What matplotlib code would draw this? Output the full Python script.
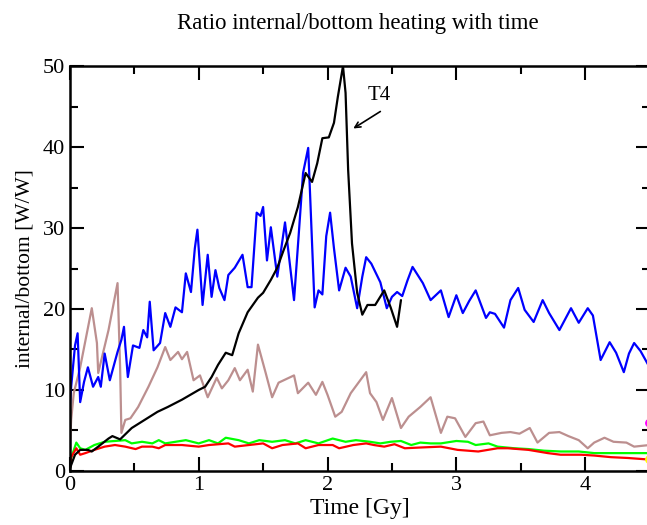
import matplotlib
matplotlib.use("Agg")
import matplotlib.pyplot as plt
from matplotlib.ticker import MultipleLocator

plt.rcParams['font.family'] = ['Liberation Serif', 'DejaVu Serif']

# blue
blue_t = [0.0, 0.01, 0.04, 0.06, 0.08, 0.11, 0.14, 0.18, 0.22, 0.24, 0.27, 0.31, 0.37, 0.40, 0.42, 0.43,
          0.45, 0.49, 0.54, 0.57, 0.60, 0.62, 0.65, 0.70, 0.74, 0.78, 0.82, 0.87, 0.90, 0.94,
          0.97, 0.99, 1.03, 1.07, 1.10, 1.13, 1.16, 1.20, 1.23, 1.28, 1.34, 1.38, 1.41, 1.45, 1.48,
          1.50, 1.53, 1.56, 1.61, 1.67, 1.74, 1.78, 1.81, 1.85, 1.90, 1.93, 1.96, 1.99, 2.02, 2.05, 2.09, 2.14,
          2.18, 2.23, 2.27, 2.30, 2.34, 2.41, 2.46, 2.50, 2.54, 2.58, 2.62, 2.66, 2.74, 2.80, 2.88, 2.94, 3.00,
          3.05, 3.10, 3.15, 3.23, 3.26, 3.30, 3.37, 3.42, 3.48, 3.53, 3.60, 3.67, 3.72, 3.80, 3.89,
          3.95, 4.02, 4.06, 4.12, 4.19, 4.24, 4.30, 4.34, 4.38, 4.43, 4.50]
blue_v = [8.0, 10.4, 15.5, 17.0, 8.5, 11.0, 12.8, 10.4, 11.6, 10.4, 14.5, 11.2, 14.7, 16.2, 17.8, 15.5,
          11.6, 15.5, 15.2, 17.4, 16.5, 20.9, 14.9, 15.8, 19.5, 17.8, 20.2, 19.6, 24.4, 22.1,
          27.5, 29.8, 20.5, 26.7, 21.5, 24.8, 22.6, 21.1, 24.2, 25.1, 26.7, 22.7, 22.7, 31.9, 31.5,
          32.6, 26.0, 30.1, 24.0, 30.7, 21.1, 30.0, 36.8, 39.9, 20.2, 22.3, 21.8, 29.0, 31.9, 27.5, 22.3, 25.1,
          24.0, 20.1, 24.0, 26.4, 25.6, 23.3, 20.1, 21.5, 22.1, 21.6, 23.5, 25.2, 23.2, 21.1, 22.3, 19.0, 21.7,
          19.5, 21.0, 22.3, 18.9, 19.6, 19.4, 17.7, 21.1, 22.6, 19.9, 18.4, 21.1, 19.5, 17.4, 20.1,
          18.3, 20.1, 19.2, 13.7, 15.9, 14.6, 12.2, 14.5, 15.8, 14.8, 12.8]

# black (T4)
black_t = [0.0, 0.04, 0.08, 0.14, 0.17, 0.22, 0.30, 0.33, 0.39, 0.48, 0.58, 0.68, 0.76, 0.87,
           1.00, 1.05, 1.10, 1.15, 1.21, 1.26, 1.31, 1.38, 1.46, 1.50, 1.56, 1.61, 1.66, 1.71,
           1.77, 1.83, 1.88, 1.92, 1.96, 2.01, 2.05, 2.08, 2.12, 2.14, 2.16, 2.19, 2.23, 2.27,
           2.31, 2.37, 2.44, 2.49, 2.54, 2.57]
black_v = [0.3, 2.0, 2.6, 2.6, 2.4, 3.0, 4.0, 4.3, 3.9, 5.3, 6.3, 7.3, 7.9, 8.8,
           10.0, 10.4, 11.6, 13.1, 14.6, 14.3, 17.0, 19.6, 21.4, 22.0, 23.6, 25.1, 27.3, 29.4,
           32.6, 36.8, 35.7, 38.0, 41.1, 41.2, 43.0, 46.2, 50.0, 46.7, 37.2, 28.1, 22.0, 19.3,
           20.5, 20.5, 22.3, 20.2, 17.8, 21.1]

# brown
brown_t = [0.0, 0.01, 0.03, 0.08, 0.17, 0.21, 0.22, 0.30, 0.37, 0.39, 0.40, 0.43, 0.47, 0.53,
           0.61, 0.68, 0.74, 0.78, 0.84, 0.87, 0.91, 0.96, 1.01, 1.07, 1.14, 1.18, 1.23, 1.28,
           1.32, 1.38, 1.42, 1.46, 1.52, 1.57, 1.62, 1.74, 1.77, 1.85, 1.91, 1.96, 2.00, 2.06,
           2.11, 2.18, 2.24, 2.30, 2.33, 2.38, 2.43, 2.50, 2.57, 2.63, 2.72, 2.80, 2.88, 2.93,
           2.99, 3.07, 3.15, 3.21, 3.26, 3.35, 3.42, 3.49, 3.57, 3.63, 3.72, 3.80, 3.87, 3.95,
           4.02, 4.07, 4.15, 4.22, 4.32, 4.38, 4.50]
brown_v = [3.0, 6.3, 9.6, 12.8, 20.1, 15.8, 12.1, 17.4, 23.2, 12.8, 4.7, 6.3, 6.5, 7.9,
           10.4, 12.8, 15.3, 13.7, 14.7, 13.8, 14.7, 11.2, 11.8, 9.1, 11.5, 10.2, 11.2, 12.7,
           11.2, 12.5, 9.8, 15.6, 12.1, 9.1, 10.9, 11.8, 9.6, 10.9, 9.4, 11.0, 9.4, 6.7,
           7.3, 9.6, 10.9, 12.2, 9.6, 8.5, 6.3, 9.0, 5.3, 6.7, 7.9, 9.1, 4.7, 6.7,
           6.5, 4.2, 5.9, 6.1, 4.4, 4.7, 4.8, 4.6, 5.3, 3.5, 4.7, 4.8, 4.3, 3.8,
           2.8, 3.5, 4.1, 3.6, 3.5, 3.0, 3.2]

# green
green_t = [0.0, 0.01, 0.05, 0.08, 0.12, 0.19, 0.27, 0.43, 0.48, 0.56, 0.64, 0.69, 0.74, 0.82,
           0.90, 1.00, 1.08, 1.15, 1.21, 1.31, 1.39, 1.47, 1.57, 1.67, 1.75, 1.83, 1.93, 2.04,
           2.14, 2.22, 2.33, 2.41, 2.49, 2.57, 2.65, 2.72, 2.80, 2.88, 2.96, 3.00, 3.09, 3.15,
           3.25, 3.32, 3.45, 3.56, 3.68, 3.81, 3.95, 4.07, 4.50]
green_v = [0.3, 1.6, 3.5, 2.8, 2.6, 3.2, 3.6, 3.8, 3.4, 3.6, 3.4, 3.8, 3.4, 3.6,
           3.8, 3.4, 3.8, 3.4, 4.1, 3.8, 3.4, 3.8, 3.6, 3.8, 3.4, 3.8, 3.4, 4.0,
           3.6, 3.8, 3.6, 3.4, 3.6, 3.7, 3.2, 3.5, 3.4, 3.4, 3.6, 3.7, 3.6, 3.2,
           3.4, 3.0, 2.8, 2.7, 2.5, 2.4, 2.4, 2.2, 2.2]

# red
red_t = [0.0, 0.01, 0.05, 0.08, 0.12, 0.19, 0.27, 0.35, 0.43, 0.51, 0.56, 0.64, 0.69, 0.74,
         0.87, 1.00, 1.08, 1.23, 1.28, 1.39, 1.50, 1.57, 1.65, 1.77, 1.83, 1.93, 2.04, 2.09,
         2.20, 2.30, 2.36, 2.44, 2.52, 2.60, 2.73, 2.88, 3.01, 3.17, 3.32, 3.40, 3.56, 3.71,
         3.81, 3.97, 4.07, 4.20, 4.33, 4.50]
red_v = [0.3, 1.7, 2.8, 2.0, 2.2, 2.6, 3.0, 3.2, 3.0, 2.7, 3.0, 3.0, 2.8, 3.2,
         3.2, 3.0, 3.2, 3.4, 3.0, 3.2, 3.4, 2.8, 3.2, 3.4, 2.8, 3.2, 3.2, 2.8,
         3.2, 3.4, 3.2, 3.0, 3.3, 2.8, 2.9, 3.0, 2.6, 2.4, 2.8, 2.8, 2.6, 2.2,
         2.0, 2.0, 1.9, 1.7, 1.6, 1.4]

# end markers at right edge
dot_t = [4.5, 4.5]
dot_v = [5.9, 1.4]
dot_c = ['magenta', 'yellow']

fig = plt.figure(figsize=(6.47, 5.25), dpi=100)
ax = fig.add_axes([0.108, 0.103, 0.896, 0.771])

lw = 1.6
kw = dict(lw=lw, solid_joinstyle='round', solid_capstyle='round')
ax.plot(brown_t, brown_v, color='#bc8f8f', **kw)
ax.plot(green_t, green_v, color='#00ff00', **kw)
ax.plot(red_t, red_v, color='#ff0000', **kw)
ax.plot(blue_t, blue_v, color='#0000ff', **kw)
ax.plot(black_t, black_v, color='black', **kw)
ax.scatter(dot_t, dot_v, c=dot_c, s=30, zorder=5)

ax.text(2.40, 46.4, 'T4', fontsize=15, ha='center', va='center')
ax.annotate('', xy=(2.20, 42.3), xytext=(2.41, 44.4),
            arrowprops=dict(arrowstyle='->', color='black', lw=1.2, shrinkA=0, shrinkB=0))

ax.set_xlim(0, 4.5)
ax.set_ylim(0, 50)
ax.xaxis.set_major_locator(MultipleLocator(1))
ax.xaxis.set_minor_locator(MultipleLocator(0.5))
ax.yaxis.set_major_locator(MultipleLocator(10))
ax.yaxis.set_minor_locator(MultipleLocator(5))
ax.tick_params(which='both', direction='in', top=True, right=True, width=1.5, labelsize=16)
ax.tick_params(which='major', length=10)
ax.tick_params(which='minor', length=6)
for s in ax.spines.values():
    s.set_linewidth(1.8)

ax.set_xlabel('Time [Gy]', fontsize=17, labelpad=2)
ax.set_ylabel('internal/bottom [W/W]', fontsize=15.5, labelpad=6)
fig.suptitle('Ratio internal/bottom heating with time', fontsize=16.5, x=0.553, y=0.975)

fig.savefig('out.png', dpi=100)
